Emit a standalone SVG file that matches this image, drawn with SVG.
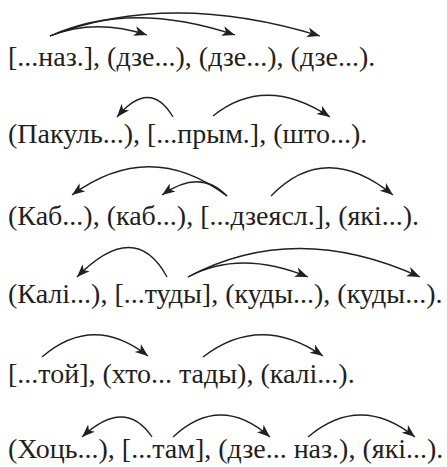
<svg xmlns="http://www.w3.org/2000/svg" width="447" height="467" viewBox="0 0 447 467">
<style>
.t{font-family:"Liberation Serif","Times New Roman",serif;font-size:28px;fill:#231f20}
.a{fill:none;stroke:#231f20;stroke-width:1.3;marker-end:url(#ah)}
</style>
<defs>
<marker id="ah" markerUnits="userSpaceOnUse" viewBox="-14 -6 15 12" refX="0" refY="0" markerWidth="15" markerHeight="12" orient="auto">
<path d="M0,0 L-13,-5 L-9.5,0 L-13,5 Z" fill="#231f20"/>
</marker>
</defs>
<rect width="447" height="467" fill="#fff"/>
<g id="line1"><text class="t" x="8" y="66">[...наз.], (дзе...), (дзе...), (дзе...).</text></g>
<g id="line2"><text class="t" x="8" y="143">(Пакуль...), [...прым.], (што...).</text></g>
<g id="line3"><text class="t" x="8" y="225">(Каб...), (каб...), [...дзеясл.], (які...).</text></g>
<g id="line4"><text class="t" x="8" y="303">(Калі...), [...туды], (куды...), (куды...).</text></g>
<g id="line5"><text class="t" x="8" y="383">[...той], (хто... тады), (калі...).</text></g>
<g id="line6"><text class="t" x="8" y="458">(Хоць...), [...там], (дзе... наз.), (які...).</text></g>
<g id="connectors">
<path class="a" d="M50,36 Q95,18 147,35"/>
<path class="a" d="M50,36 Q130,0 235,35"/>
<path class="a" d="M50,36 Q170,-10 320,36"/>
<path class="a" d="M173,117 Q150,78 117,117"/>
<path class="a" d="M213,116 Q265,74 330,117"/>
<path class="a" d="M227,196 Q150,138 72,195"/>
<path class="a" d="M227,196 Q200,168 162,195"/>
<path class="a" d="M271,196 Q325,140 393,195"/>
<path class="a" d="M167,277 Q135,218 77,277"/>
<path class="a" d="M188,277 Q240,249 308,277"/>
<path class="a" d="M188,277 Q295,220 420,277"/>
<path class="a" d="M42,357 Q93,313 148,356"/>
<path class="a" d="M203,357 Q260,313 323,356"/>
<path class="a" d="M152,437 Q125,397 82,437"/>
<path class="a" d="M173,437 Q220,393 270,437"/>
<path class="a" d="M308,437 Q360,393 415,437"/>
</g>
</svg>
